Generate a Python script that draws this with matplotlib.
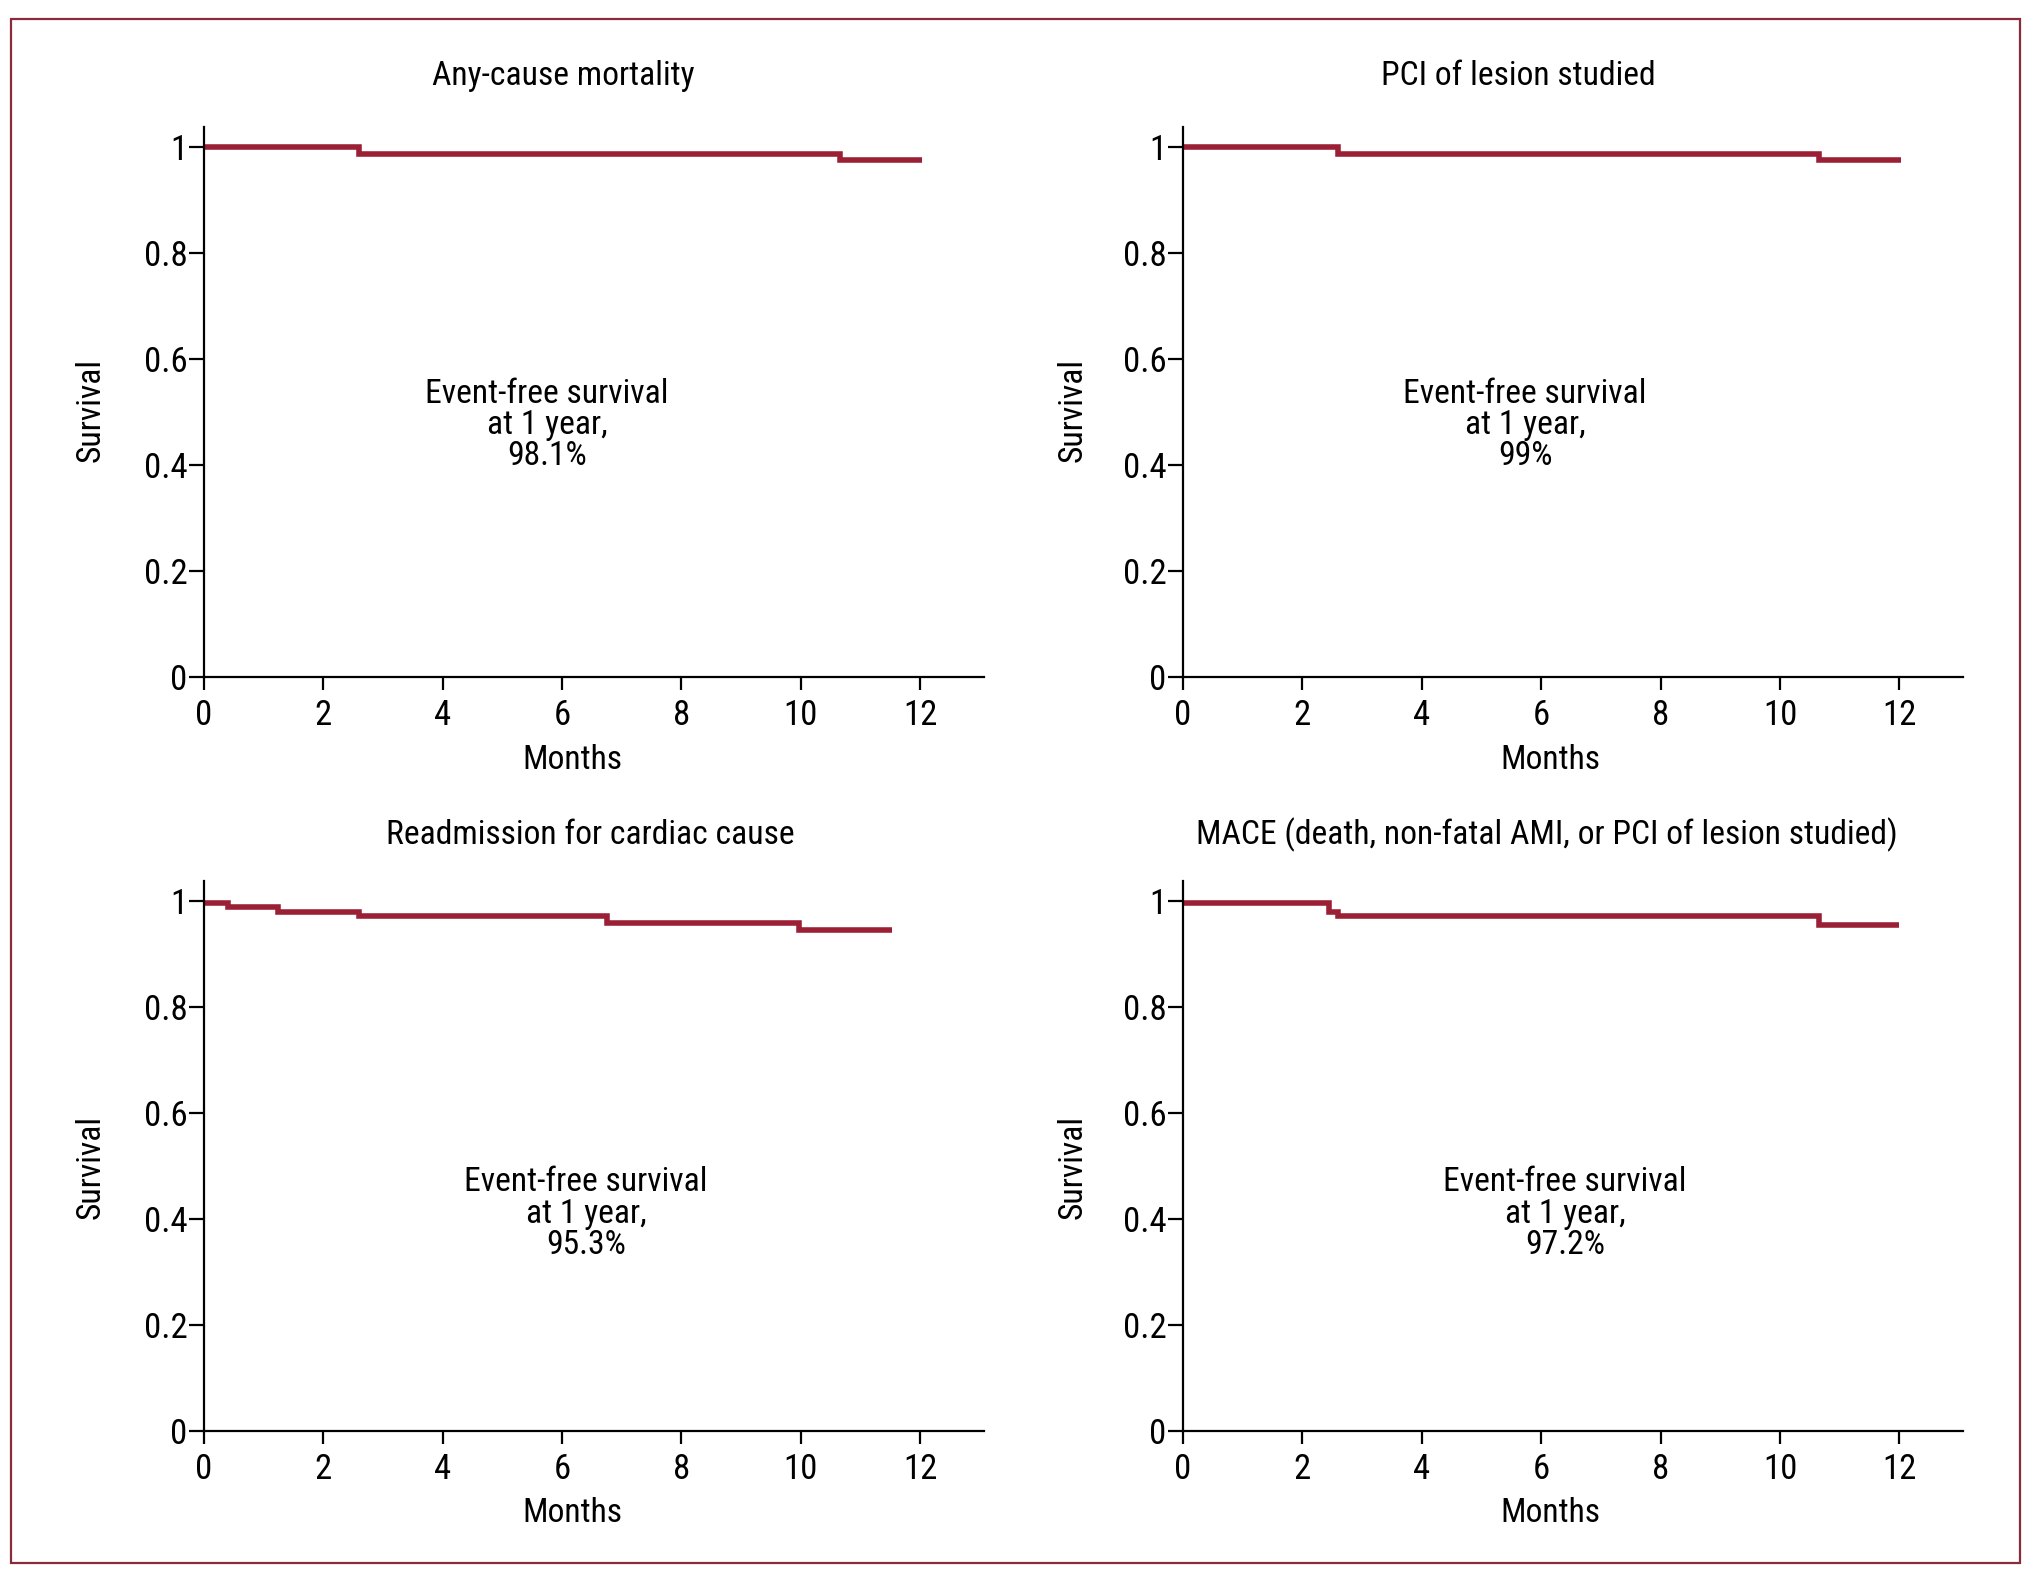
import matplotlib.pyplot as plt
from matplotlib.patches import Rectangle

plt.rcParams['font.family'] = ['Roboto Condensed', 'DejaVu Sans']
plt.rcParams['font.stretch'] = 'condensed'

titles = ['Any-cause mortality',
          'PCI of lesion studied',
          'Readmission for cardiac cause',
          'MACE (death, non-fatal AMI, or PCI of lesion studied)']
notes = ['98.1%', '99%', '95.3%', '97.2%']

# step times (months) and survival levels, last point = end of follow-up
t_mort = [0, 2.6, 10.65, 12.03]
s_mort = [1.0, 0.987, 0.975, 0.975]
t_pci = [0, 2.6, 10.65, 12.03]
s_pci = [1.0, 0.987, 0.975, 0.975]
t_readm = [0, 0.4, 1.24, 2.6, 6.76, 9.97, 11.52]
s_readm = [0.997, 0.988, 0.980, 0.972, 0.959, 0.945, 0.945]
t_mace = [0, 2.44, 2.59, 10.65, 12.0]
s_mace = [0.997, 0.980, 0.972, 0.955, 0.955]

times = [t_mort, t_pci, t_readm, t_mace]
survs = [s_mort, s_pci, s_readm, s_mace]

xticks = [0, 2, 4, 6, 8, 10, 12]
yticks = [0, 0.2, 0.4, 0.6, 0.8, 1]
ytick_labels = ['0', '0.2', '0.4', '0.6', '0.8', '1']

red = '#9b1f35'
fs_tick = 25
fs = 24.2

fig = plt.figure(figsize=(20.37, 15.75), dpi=100)
fig.patches.append(Rectangle((11 / 2037, 1 - 1563 / 1575), (2020 - 11) / 2037, (1563 - 19) / 1575,
                             transform=fig.transFigure, fill=False, edgecolor='#8b2a3a', lw=1.6))

lefts = [0.1001, 0.5808, 0.1001, 0.5808]
bottoms = [0.5702, 0.5702, 0.0914, 0.0914]
title_pos = [(0.2764, 0.952), (0.7454, 0.952), (0.2897, 0.470), (0.7595, 0.470)]
xlab_pos = [(0.2808, 0.5175), (0.761, 0.5175), (0.2808, 0.0394), (0.761, 0.0394)]
ylab_pos = [(0.0447, 0.74), (0.5264, 0.74), (0.0447, 0.259), (0.5264, 0.259)]
note_pos = [(5.75, 0.475), (5.73, 0.475), (6.4, 0.41), (6.4, 0.41)]

for i in range(4):
    ax = fig.add_axes([lefts[i], bottoms[i], 0.383, 0.3492])
    ax.step(times[i], survs[i], where='post', color=red, lw=4.0,
            solid_joinstyle='miter', solid_capstyle='butt')
    ax.set_xlim(0, 13.07)
    ax.set_ylim(0, 1.0377)
    ax.set_xticks(xticks)
    ax.set_yticks(yticks)
    ax.set_yticklabels(ytick_labels)
    for s in ['top', 'right']:
        ax.spines[s].set_visible(False)
    for s in ['left', 'bottom']:
        ax.spines[s].set_linewidth(1.6)
    ax.tick_params(axis='x', length=9.5, width=1.6, labelsize=fs_tick, pad=6.5)
    ax.tick_params(axis='y', length=11, width=1.6, labelsize=fs_tick, pad=0.8)
    ax.text(note_pos[i][0], note_pos[i][1], 'Event-free survival\nat 1 year,\n' + notes[i],
            ha='center', va='center', fontsize=fs, linespacing=0.97)
    fig.text(title_pos[i][0], title_pos[i][1], titles[i], ha='center', va='center', fontsize=fs)
    fig.text(xlab_pos[i][0], xlab_pos[i][1], 'Months', ha='center', va='center', fontsize=fs)
    fig.text(ylab_pos[i][0], ylab_pos[i][1], 'Survival', ha='center', va='center',
             fontsize=fs, rotation=90)

fig.savefig('out.png', dpi=100)
